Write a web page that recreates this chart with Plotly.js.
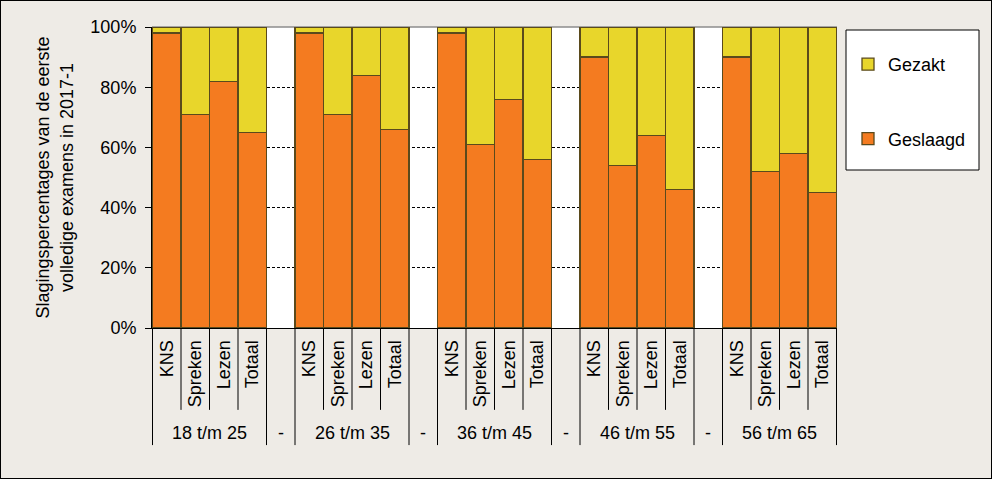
<!DOCTYPE html>
<html>
<head>
<meta charset="utf-8">
<script src="https://cdn.plot.ly/plotly-3.0.1.min.js"></script>
<style>
html,body{margin:0;padding:0;background:#eeebe6;}
#chart{width:990px;height:477px;border:1px solid #000;}
</style>
</head>
<body>
<div id="chart"></div>
<script>
// ---- data ----
const groups = ['18 t/m 25', '26 t/m 35', '36 t/m 45', '46 t/m 55', '56 t/m 65'];
const categories = ['KNS', 'Spreken', 'Lezen', 'Totaal'];
const separatorLabel = '-';
const geslaagd_18_25 = [98, 71, 82, 65];
const geslaagd_26_35 = [98, 71, 84, 66];
const geslaagd_36_45 = [98, 61, 76, 56];
const geslaagd_46_55 = [90, 54, 64, 46];
const geslaagd_56_65 = [90, 52, 58, 45];
const gezakt_18_25 = [2, 29, 18, 35];
const gezakt_26_35 = [2, 29, 16, 34];
const gezakt_36_45 = [2, 39, 24, 44];
const gezakt_46_55 = [10, 46, 36, 54];
const gezakt_56_65 = [10, 48, 42, 55];
const geslaagdByGroup = [geslaagd_18_25, geslaagd_26_35, geslaagd_36_45, geslaagd_46_55, geslaagd_56_65];
const gezaktByGroup = [gezakt_18_25, gezakt_26_35, gezakt_36_45, gezakt_46_55, gezakt_56_65];
const yTickVals = [0, 20, 40, 60, 80, 100];
const yTickLabels = ['0%', '20%', '40%', '60%', '80%', '100%'];

// ---- build slots ----
const slots = [], tickText = [], ySlaag = [], yZakt = [], isSep = [];
const groupCenters = [], sepCenters = [];
groups.forEach((g, gi) => {
  const start = slots.length;
  categories.forEach((c, ci) => {
    slots.push(g + '|' + c);
    tickText.push(c);
    ySlaag.push(geslaagdByGroup[gi][ci]);
    yZakt.push(gezaktByGroup[gi][ci]);
    isSep.push(false);
  });
  groupCenters.push({label: g, x: (start + slots.length - 1) / 2});
  if (gi < groups.length - 1) {
    slots.push('sep' + gi);
    tickText.push('');
    ySlaag.push(null);
    yZakt.push(null);
    isSep.push(true);
    sepCenters.push(slots.length - 1);
  }
});

const outline = () => ({color: '#5a4a1c', width: 1.3});
const traces = [
  {type: 'bar', name: 'Geslaagd', x: slots, y: ySlaag, legendgroup: 'a', legendrank: 2,
   marker: {color: '#f47b20', line: outline()}, hoverinfo: 'skip'},
  {type: 'bar', name: 'Gezakt', x: slots, y: yZakt, legendgroup: 'b', legendrank: 1,
   marker: {color: '#e8d62b', line: outline()}, hoverinfo: 'skip'}
];

const F = () => ({family: 'Liberation Sans, Arial, sans-serif', size: 18, color: '#000000'});

const shapes = [];
for (let b = 0; b <= slots.length; b++) {
  const long = b === 0 || b === slots.length || isSep[b - 1] || isSep[b];
  shapes.push({type: 'line', xref: 'x', yref: 'paper', x0: b - 0.5, x1: b - 0.5,
    y0: 0, y1: long ? -0.389 : -0.272, line: {color: '#000', width: 1}, layer: 'above'});
}
shapes.push({type: 'line', xref: 'paper', yref: 'paper', x0: 0, x1: 1, y0: 1, y1: 1,
  line: {color: '#8c8c8c', width: 1.5}, layer: 'below'});
shapes.push({type: 'rect', xref: 'paper', yref: 'paper',
  x0: (846 - 152) / 685, x1: (979 - 152) / 685, y0: (328 - 170) / 301, y1: (328 - 30) / 301,
  fillcolor: '#ffffff', line: {color: '#000', width: 1}, layer: 'below'});

const annotations = [];
groupCenters.forEach(gc => annotations.push({xref: 'x', yref: 'paper', x: gc.x, y: -0.349,
  text: gc.label, showarrow: false, font: F(), yanchor: 'middle'}));
sepCenters.forEach(sc => annotations.push({xref: 'x', yref: 'paper', x: sc, y: -0.349,
  text: separatorLabel, showarrow: false, font: F(), yanchor: 'middle'}));

const layout = {
  width: 990, height: 477,
  margin: {l: 151, r: 154, t: 26, b: 150},
  paper_bgcolor: '#eeebe6', plot_bgcolor: '#ffffff',
  font: F(),
  barmode: 'stack', bargap: 0,
  showlegend: true,
  legend: {x: (848 - 152) / 685, xanchor: 'left', y: 1 - (46 - 27) / 301, yanchor: 'top',
    bgcolor: 'rgba(0,0,0,0)', borderwidth: 0, font: F(), itemwidth: 30,
    traceorder: 'grouped', tracegroupgap: 48},
  xaxis: {type: 'category', categoryorder: 'array', categoryarray: slots,
    tickmode: 'array', tickvals: slots, ticktext: tickText, tickangle: -90, tickfont: F(),
    ticks: 'outside', ticklen: 4, tickcolor: 'rgba(0,0,0,0)',
    showline: true, linecolor: '#000', linewidth: 1, showgrid: false, fixedrange: true},
  yaxis: {range: [0, 100], tickmode: 'array', tickvals: yTickVals, ticktext: yTickLabels, tickfont: F(),
    ticks: 'outside', ticklen: 6, tickcolor: '#000', ticklabelstandoff: 5,
    showline: true, linecolor: '#000', linewidth: 1,
    showgrid: true, gridcolor: '#000', gridwidth: 1, griddash: '3px,2px', zeroline: false,
    title: {text: 'Slagingspercentages van de eerste<br>volledige examens in 2017-1', font: F(), standoff: 12}},
  shapes: shapes,
  annotations: annotations
};

Plotly.newPlot('chart', traces, layout, {displayModeBar: false, staticPlot: true});
</script>
</body>
</html>
